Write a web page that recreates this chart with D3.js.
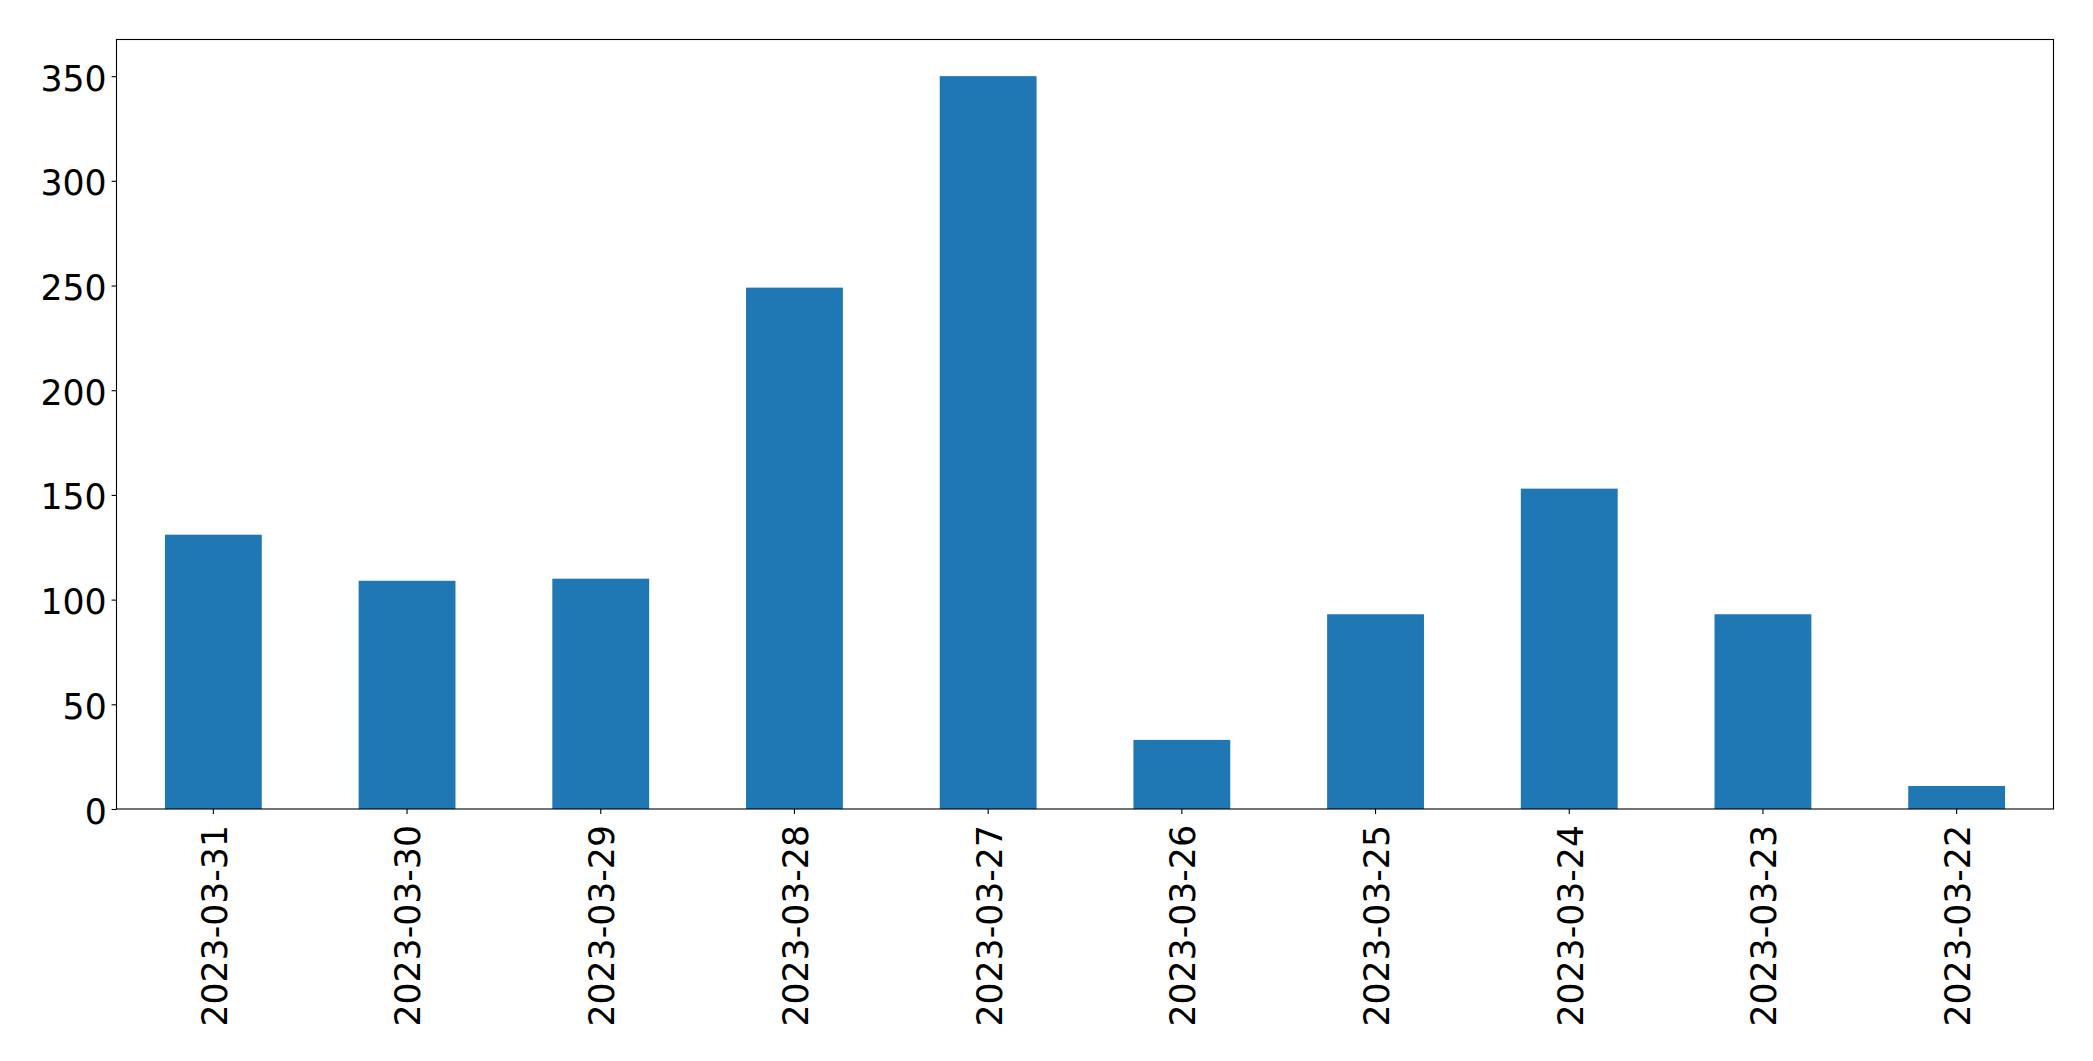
<!DOCTYPE html>
<html>
<head>
<meta charset="utf-8">
<script src="https://cdn.jsdelivr.net/npm/d3@7"></script>
<style>
  html, body { margin: 0; padding: 0; background: #fff; }
  svg { display: block; }
</style>
</head>
<body>
<svg id="chart" width="2093" height="1061"></svg>
<script>
const categories = ["2023-03-31","2023-03-30","2023-03-29","2023-03-28","2023-03-27","2023-03-26","2023-03-25","2023-03-24","2023-03-23","2023-03-22"];
const values = [131, 109, 110, 249, 350, 33, 93, 153, 93, 11];
const yTicks = [0, 50, 100, 150, 200, 250, 300, 350];

const W = 2093, H = 1061;
const margin = { left: 116.5, right: 2093 - 2053.5, top: 39.5, bottom: 1061 - 809 };
const svg = d3.select("#chart");
const font = "'DejaVu Sans', sans-serif";
const fontSize = 34.7;
const tickLen = 4.9, tickPad = 4.9;

const x = d3.scaleBand()
  .domain(categories)
  .range([margin.left, W - margin.right])
  .paddingInner(0.5)
  .paddingOuter(0.25);

const yMax = d3.max(values) * 1.05;
const y = d3.scaleLinear()
  .domain([0, yMax])
  .range([H - margin.bottom, margin.top]);

// Bars
svg.append("g")
  .selectAll("rect")
  .data(values)
  .join("rect")
  .attr("x", (d, i) => x(categories[i]))
  .attr("y", d => y(d))
  .attr("width", x.bandwidth())
  .attr("height", d => y(0) - y(d))
  .attr("fill", "#1f77b4");

// Y axis
const yAxis = d3.axisLeft(y)
  .tickValues(yTicks)
  .tickSize(tickLen)
  .tickPadding(tickPad)
  .tickFormat(d3.format("d"));
const gy = svg.append("g")
  .attr("transform", `translate(${margin.left},0)`)
  .call(yAxis);
gy.select(".domain").remove();
gy.selectAll(".tick line").attr("stroke", "#000").attr("stroke-width", 1.1);
gy.selectAll(".tick text")
  .attr("font-family", font)
  .attr("font-size", fontSize)
  .attr("fill", "#000")
  .attr("dy", null)
  .attr("y", 14);

// X axis
const xAxis = d3.axisBottom(x).tickSize(tickLen).tickPadding(tickPad);
const gx = svg.append("g")
  .attr("transform", `translate(0,${H - margin.bottom})`)
  .call(xAxis);
gx.select(".domain").remove();
gx.selectAll(".tick line").attr("stroke", "#000").attr("stroke-width", 1.1);
gx.selectAll(".tick text")
  .attr("font-family", font)
  .attr("font-size", fontSize)
  .attr("fill", "#000")
  .attr("text-anchor", "end")
  .attr("x", null).attr("y", null).attr("dy", null)
  .attr("transform", "translate(0,16) rotate(-90)")
  .attr("dy", 13.4);

// Frame
svg.append("rect")
  .attr("x", margin.left)
  .attr("y", margin.top)
  .attr("width", W - margin.right - margin.left)
  .attr("height", H - margin.bottom - margin.top)
  .attr("fill", "none")
  .attr("stroke", "#000")
  .attr("stroke-width", 1.1);
</script>
</body>
</html>
